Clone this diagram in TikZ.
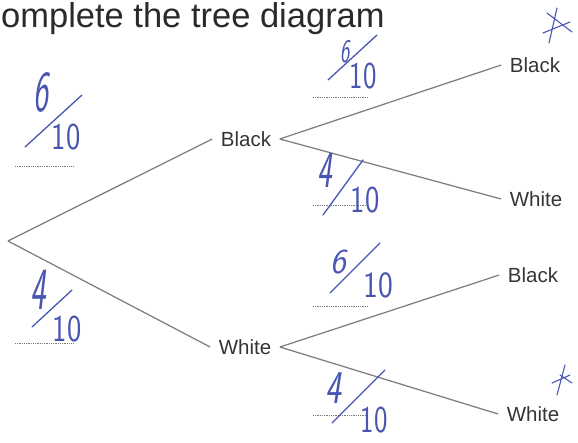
\documentclass[tikz,border=0pt]{standalone}
\usepackage{fontspec}
\setmainfont{Liberation Sans}
\definecolor{titlegray}{HTML}{2A2A2A}
\definecolor{labgray}{HTML}{353535}
\definecolor{linegray}{HTML}{7E7E7E}
\definecolor{dotgray}{HTML}{7A7A7A}
\definecolor{handblue}{RGB}{72,86,178}
\newcommand{\handdigits}[3]{\scalebox{#1}[1]{\fontsize{#2}{#2}\selectfont\sffamily\itshape #3}}
\newcommand{\handden}[3]{\scalebox{#1}[1]{\fontsize{#2}{#2}\selectfont\sffamily #3}}
\begin{document}
\begin{tikzpicture}[x=1pt,y=-1pt,
  lab/.style={font=\fontsize{20.5}{20.5}\selectfont, text=labgray, inner xsep=8.5pt, inner ysep=2pt},
  branch/.style={draw=linegray, line width=1.25pt},
  answerline/.style={draw=dotgray, line width=0.8pt, dash pattern=on 0.9pt off 0.9pt},
  hand/.style={text=handblue, inner sep=0pt},
  handstroke/.style={draw=handblue, line width=1.3pt, line cap=round}]
\useasboundingbox (0,0) rectangle (578,442);

% title
\node[anchor=base west, inner sep=0pt, text=titlegray, font=\fontsize{34.5}{34.5}\selectfont] (T) at (1,27) {omplete the tree diagram};

% tree nodes
\coordinate (R) at (8,241);
\node[lab] (B1) at (246,139) {Black};
\node[lab] (W1) at (245,347) {White};
\node[lab] (BB) at (535,65) {Black};
\node[lab] (BW) at (536,199) {White};
\node[lab] (WB) at (533,275) {Black};
\node[lab] (WW) at (533,414) {White};

% branches
\draw[branch] (R) -- (B1.west);
\draw[branch] (R) -- (W1.west);
\draw[branch] (B1.east) -- (BB.west);
\draw[branch] (B1.east) -- (BW.west);
\draw[branch] (W1.east) -- (WB.west);
\draw[branch] (W1.east) -- (WW.west);

% dotted answer lines
\draw[answerline] (15,166) -- (73,166);
\draw[answerline] (15,343) -- (73,343);
\draw[answerline] (313,97) -- (368,97);
\draw[answerline] (313,205) -- (368,205);
\draw[answerline] (313,306) -- (368,306);
\draw[answerline] (313,415) -- (368,415);

% handwritten fractions
% upper left 6/10
\node[hand] (n1) at (41,92) {\handdigits{0.55}{58}{6}};
\node[hand] (d1) at (66,137) {\handden{0.8}{38}{10}};
\draw[handstroke] (25,147) -- (82,95);
% top middle 6/10
\node[hand] (n2) at (345,52) {\handdigits{0.6}{33}{6}};
\node[hand] (d2) at (363,76) {\handden{0.75}{38}{10}};
\draw[handstroke] (328,80) -- (377,35);
% middle 4/10
\node[hand] (n3) at (325,170) {\handdigits{0.6}{52}{4}};
\node[hand] (d3) at (365,200) {\handden{0.8}{38}{10}};
\draw[handstroke] (323,215) -- (363,160);
% lower left 4/10
\node[hand] (n4) at (38,290) {\handdigits{0.55}{60}{4}};
\node[hand] (d4) at (67,329) {\handden{0.8}{38}{10}};
\draw[handstroke] (32,327) -- (72,290);
% lower middle 6/10
\node[hand] (n5) at (338,262) {\handdigits{0.95}{35}{6}};
\node[hand] (d5) at (378,285) {\handden{0.85}{37}{10}};
\draw[handstroke] (330,293) -- (380,243);
% bottom 4/10
\node[hand] (n6) at (333,388) {\handdigits{0.72}{47}{4}};
\node[hand] (d6) at (374,420) {\handden{0.75}{38}{10}};
\draw[handstroke] (332,423) -- (385,370);

% stars
\draw[handstroke, line width=1.1pt] (557,8) -- (549,43);
\draw[handstroke, line width=1.1pt] (547,13) -- (572,32);
\draw[handstroke, line width=1.1pt] (543,33) -- (570,22);
\draw[handstroke, line width=1.1pt] (565,365) -- (557,395);
\draw[handstroke, line width=1.1pt] (552,383) -- (570,375);
\draw[handstroke, line width=1.1pt] (560,375) -- (572,383);
\end{tikzpicture}
\end{document}
